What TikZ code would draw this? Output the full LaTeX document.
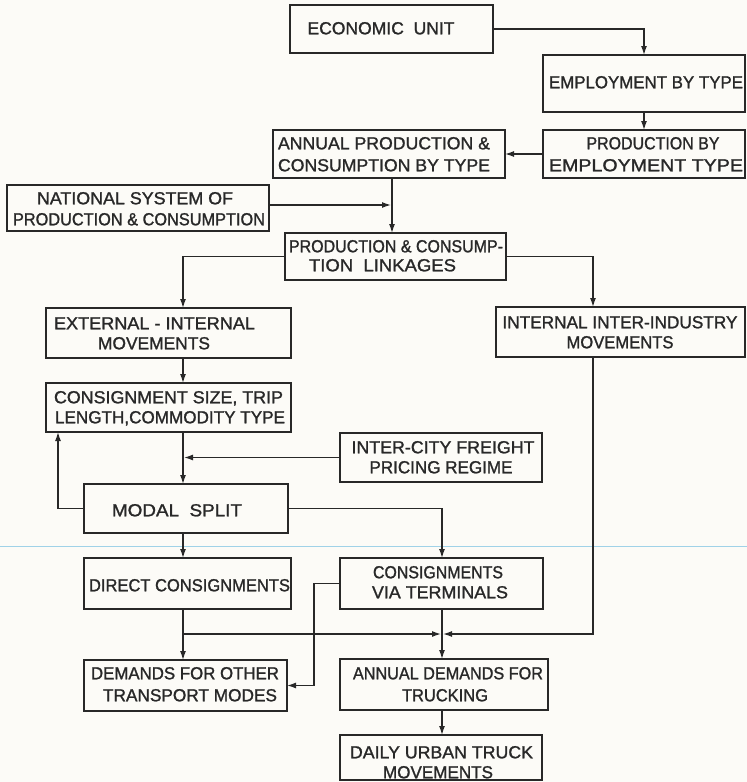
\documentclass[tikz,border=0pt]{standalone}
\usepackage{fontspec}
\usepackage{graphicx}
\setmainfont{Liberation Sans}[BoldFont={Liberation Sans}, BoldFeatures={FakeBold=1.3}]
\usetikzlibrary{arrows.meta,calc}

\definecolor{ink}{RGB}{40,40,40}
\definecolor{paper}{RGB}{252,251,247}
\definecolor{scanline}{RGB}{160,210,232}

% box: name, centre x, centre y, width, height
\newcommand{\flowbox}[5]{\node[box, minimum width=#4pt, minimum height=#5pt] (#1) at (#2,#3) {};}
% one lettered line: name, centre x, centre y, set width, text
\newcommand{\lettered}[5]{\node[lbl] (#1) at (#2,#3) {\resizebox{#4pt}{\height}{#5}};}

\begin{document}
\begin{tikzpicture}[x=1pt,y=-1pt,
  box/.style={draw=ink, line width=1.7pt, inner sep=0pt, outer sep=0pt},
  lbl/.style={inner sep=0pt, text=ink, text height=12.6pt, text depth=0pt,
              font=\fontsize{17.5}{20}\selectfont\bfseries},
  link/.style={draw=ink, line width=1.3pt},
  arr/.style={link, -{Latex[length=9pt,width=6pt]}},
]
\fill[paper] (0,0) rectangle (747,782);
\useasboundingbox (0,0) rectangle (747,782);
\draw[scanline, line width=1pt] (0,546) -- (747,546);

% boxes
\flowbox{eco}{391.5}{29}{203}{48}
\flowbox{emp}{644}{83.5}{202}{57}
\flowbox{pbe}{644}{154}{202}{48}
\flowbox{apc}{389}{154}{232}{48}
\flowbox{nat}{138}{208}{262}{46}
\flowbox{pcl}{395.5}{256.5}{221}{47}
\flowbox{ext}{168.5}{333}{245}{50}
\flowbox{iii}{620.5}{332}{249}{50}
\flowbox{con}{168.5}{407.5}{245}{49}
\flowbox{icf}{441}{457.5}{202}{49}
\flowbox{mod}{186}{508.5}{204}{49}
\flowbox{dir}{187.5}{583.5}{207}{51}
\flowbox{cvt}{441.5}{583.5}{203}{51}
\flowbox{dem}{185.5}{685.5}{203}{51}
\flowbox{ann}{444}{684.5}{208}{51}
\flowbox{dly}{441}{757.5}{202}{45}

% lettering
\lettered{teco}{381}{28}{147}{ECONOMIC\ \ UNIT}
\lettered{temp}{646}{82}{194}{EMPLOYMENT BY TYPE}
\lettered{tpbea}{653}{143}{133}{PRODUCTION BY}
\lettered{tpbeb}{646}{165}{194}{EMPLOYMENT TYPE}
\lettered{tapca}{384}{143}{212}{ANNUAL PRODUCTION \&}
\lettered{tapcb}{384}{165}{212}{CONSUMPTION BY TYPE}
\lettered{tnata}{135}{198}{196}{NATIONAL SYSTEM OF}
\lettered{tnatb}{139}{219}{252}{PRODUCTION \& CONSUMPTION}
\lettered{tpcla}{396}{246}{214}{PRODUCTION \& CONSUMP-}
\lettered{tpclb}{382.5}{265}{147}{TION\ \ LINKAGES}
\lettered{texta}{154.5}{323}{201}{EXTERNAL - INTERNAL}
\lettered{textb}{154}{343}{112}{MOVEMENTS}
\lettered{tiiia}{620}{322}{235}{INTERNAL INTER-INDUSTRY}
\lettered{tiiib}{620}{342}{107}{MOVEMENTS}
\lettered{tcona}{168.5}{397}{229}{CONSIGNMENT SIZE, TRIP}
\lettered{tconb}{170}{417}{230}{LENGTH,COMMODITY TYPE}
\lettered{ticfa}{443}{447}{183}{INTER-CITY FREIGHT}
\lettered{ticfb}{441}{467}{143}{PRICING REGIME}
\lettered{tmod}{177}{510}{130}{MODAL\ \ SPLIT}
\lettered{tdir}{189.5}{585}{201}{DIRECT CONSIGNMENTS}
\lettered{tcvta}{438}{572}{130}{CONSIGNMENTS}
\lettered{tcvtb}{440}{592}{136}{VIA TERMINALS}
\lettered{tdema}{185}{673}{188}{DEMANDS FOR OTHER}
\lettered{tdemb}{190}{695}{174}{TRANSPORT MODES}
\lettered{tanna}{448}{673}{190}{ANNUAL DEMANDS FOR}
\lettered{tannb}{445}{695}{86}{TRUCKING}
\lettered{tdlya}{441.5}{752}{183}{DAILY URBAN TRUCK}
\lettered{tdlyb}{438}{772}{110}{MOVEMENTS}

% routing columns and junctions
\coordinate (xl) at (183,0);
\coordinate (xr) at (593,0);
\coordinate (xf) at (58,0);
\coordinate (xo) at (314,0);
\coordinate (jn) at (392,205);
\coordinate (hj) at (442,634);

% connectors
\draw[arr] (eco.east) -| (emp.north);
\draw[arr] (emp.south) -- (pbe.north);
\draw[arr] (pbe.west) -- (apc.east);
\draw[arr] (apc.south -| jn) -- (pcl.north -| jn);
\draw[arr] (nat.east |- jn) -- ([xshift=-1pt]jn);
\draw[arr] (pcl.west) -| (ext.north -| xl);
\draw[arr] (pcl.east) -| (iii.north -| xr);
\draw[arr] (ext.south -| xl) -- (con.north -| xl);
\draw[arr] (con.south -| xl) -- (mod.north -| xl);
\draw[arr] (icf.west) -- ([xshift=1pt]icf.west -| xl);
\draw[arr] (mod.west) -| (con.south -| xf);
\draw[arr] (mod.south -| xl) -- (dir.north -| xl);
\draw[arr] (mod.east) -| (cvt.north -| hj);
\draw[arr] (cvt.west) -| (dem.east -| xo) -- (dem.east);
\draw[arr] (dir.south -| xl) -- (dem.north -| xl);
\draw[arr] (hj -| xl) -- ([xshift=-1pt]hj);
\draw[arr] (iii.south -| xr) |- ([xshift=1pt]hj);
\draw[arr] (cvt.south -| hj) -- (ann.north -| hj);
\draw[arr] (ann.south -| hj) -- (dly.north -| hj);
\end{tikzpicture}
\end{document}
